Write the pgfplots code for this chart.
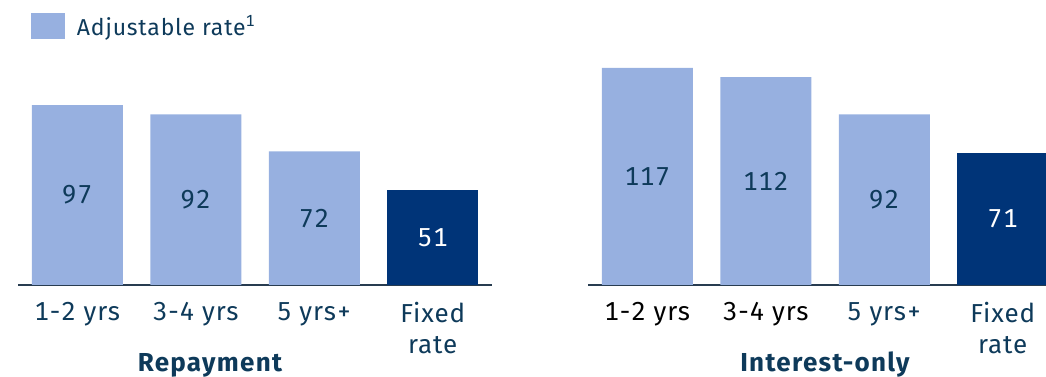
\documentclass[border=0pt]{standalone}
\usepackage{pgfplots}
\pgfplotsset{compat=1.18}
\usepackage{fontspec}
\setmainfont[LetterSpace=3.5, Numbers={Monospaced,Lining}, BoldFeatures={LetterSpace=5}]{Fira Sans}
\definecolor{lightbar}{RGB}{151,176,224}
\definecolor{darkbar}{RGB}{0,52,120}
\definecolor{txt}{RGB}{14,58,90}
\definecolor{axisline}{RGB}{40,60,80}
\pgfplotsset{
  panel/.style={
    scale only axis, anchor=south west,
    x=118.5pt, y=1.855pt, xmin=-0.5, ymin=0, ymax=153.6,
    ybar, bar width=91pt,
    axis y line=none, axis x line=bottom,
    x axis line style={-, draw=axisline, line width=1.6pt},
    xtick={0,1,2,3}, major tick length=0pt,
    xticklabel style={align=center, font=\fontsize{26}{31}\selectfont, text=txt, inner sep=0pt, yshift=-17pt},
    ytick=\empty,
    clip=false,
    /pgf/number format/assume math mode=true,
    nodes near coords,
    visualization depends on=y \as \rawy,
    every node near coord/.append style={anchor=center, font=\fontsize{26}{31}\selectfont, yshift={-0.9275pt*\rawy}},
  },
}
\begin{document}
\begin{tikzpicture}
\begin{axis}[panel, at={(18pt,92pt)}, xmax=3.5,
  xticklabels={1-2 yrs,3-4 yrs,5 yrs+,Fixed\\rate},
  legend style={at={(rel axis cs:0.027,0.954)}, anchor=north west, draw=none, fill=none, inner sep=0pt,
    font=\fontsize{23}{28}\selectfont, text=txt},
  legend image code/.code={\fill[lightbar] (0pt,-13pt) rectangle (34pt,13pt); \path (44pt,0pt);},
]
\addplot[fill=lightbar, draw=none, bar shift=0pt, nodes near coords style={text=txt}] coordinates {(0,97) (1,92) (2,72)};
\addlegendentry{Adjustable rate\textsuperscript{1}}
\addplot[fill=darkbar, draw=none, bar shift=0pt, nodes near coords style={text=white}, forget plot] coordinates {(3,51)};
\end{axis}
\begin{axis}[panel, at={(588pt,92pt)}, xmax=3.38,
  xticklabels={\textcolor{black}{1-2 yrs},\textcolor{black}{3-4 yrs},5 yrs+,Fixed\\rate},
]
\addplot[fill=lightbar, draw=none, bar shift=0pt, nodes near coords style={text=txt}] coordinates {(0,117) (1,112) (2,92)};
\addplot[fill=darkbar, draw=none, bar shift=0pt, nodes near coords style={text=white}] coordinates {(3,71)};
\end{axis}
\node[anchor=base, font=\bfseries\fontsize{26}{31}\selectfont, text=txt] at (210pt,5.5pt) {Repayment};
\node[anchor=base, font=\bfseries\fontsize{26}{31}\selectfont, text=txt] at (825pt,5.5pt) {Interest-only};
\pgfresetboundingbox
\useasboundingbox (0pt,0pt) rectangle (1046pt,377pt);
\end{tikzpicture}
\end{document}
